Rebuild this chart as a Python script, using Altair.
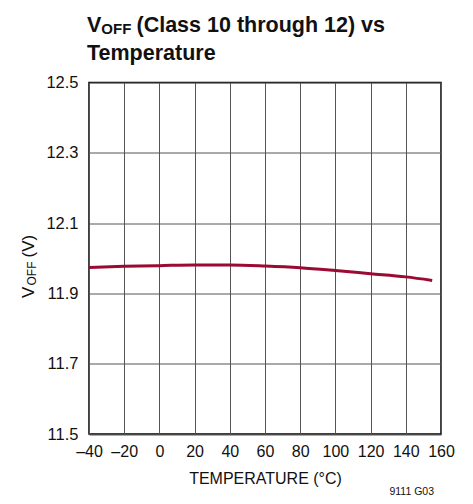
import altair as alt
import pandas as pd

temps = [-40, -20, 0, 20, 40, 60, 80, 100, 120, 140, 155]
voff = [11.974, 11.977, 11.979, 11.981, 11.981, 11.978, 11.973, 11.965, 11.956, 11.947, 11.937]

x_ticks = [-40, -20, 0, 20, 40, 60, 80, 100, 120, 140, 160]
y_ticks = [11.5, 11.7, 11.9, 12.1, 12.3, 12.5]

FONT = "Liberation Sans"

df = pd.DataFrame({"t": temps, "v": voff})

xscale = alt.Scale(domain=[-40, 160], nice=False, zero=False)
yscale = alt.Scale(domain=[11.5, 12.5], nice=False, zero=False)

line = alt.Chart(df).mark_line(color="#9b0a33", strokeWidth=3, interpolate="monotone").encode(
    x=alt.X("t:Q", scale=xscale,
            axis=alt.Axis(values=x_ticks, title="TEMPERATURE (°C)", grid=True,
                          labelExpr="replace(datum.label, '−', '–')",
                          labelOverlap=False, labelFlush=False,
                          ticks=False, domain=False, labelPadding=9,
                          labelFont=FONT, labelFontSize=16, labelColor="#111",
                          titleFont=FONT, titleFontSize=16, titleFontWeight="normal",
                          titleColor="#111", titlePadding=11,
                          gridColor="#555", gridWidth=1, gridOpacity=1)),
    y=alt.Y("v:Q", scale=yscale,
            axis=alt.Axis(values=y_ticks, format=".1f", title=None, grid=True,
                          labelOverlap=False, labelFlush=False,
                          ticks=False, domain=False, labelPadding=11,
                          labelFont=FONT, labelFontSize=16.5, labelColor="#111",
                          gridColor="#555", gridWidth=1, gridOpacity=1)),
)

def txt(s, x, y, size, weight="normal", angle=0, align="left"):
    return alt.Chart(pd.DataFrame({"s": [s]})).mark_text(
        font=FONT, fontSize=size, fontWeight=weight, angle=angle, align=align,
        baseline="alphabetic", color="#111"
    ).encode(text="s:N", x=alt.value(x), y=alt.value(y))

title_parts = [
    txt("V", -2, -50.5, 21.5, "bold"),
    txt("OFF", 12.3, -48.5, 15, "bold"),
    txt("(Class 10 through 12) vs", 47.5, -50.5, 21.5, "bold"),
    txt("Temperature", -2, -22.5, 21.5, "bold"),
]

ytitle = [
    txt("V", -55, 215.5, 17, angle=270),
    txt("OFF", -53, 203, 12, angle=270),
    txt("(V)", -55, 175, 17, angle=270),
]

foot = txt("9111 G03", 345, 412, 10.5, align="right")

chart = alt.layer(line, *title_parts, *ytitle, foot).properties(
    width=352, height=351.5,
    autosize=alt.AutoSizeParams(type="none"),
    padding={"left": 81, "top": 74.5, "right": 24, "bottom": 62},
).configure_view(stroke="#000", strokeWidth=1.5)

chart.save("out.html", embed_options={"renderer": "svg", "actions": False})
